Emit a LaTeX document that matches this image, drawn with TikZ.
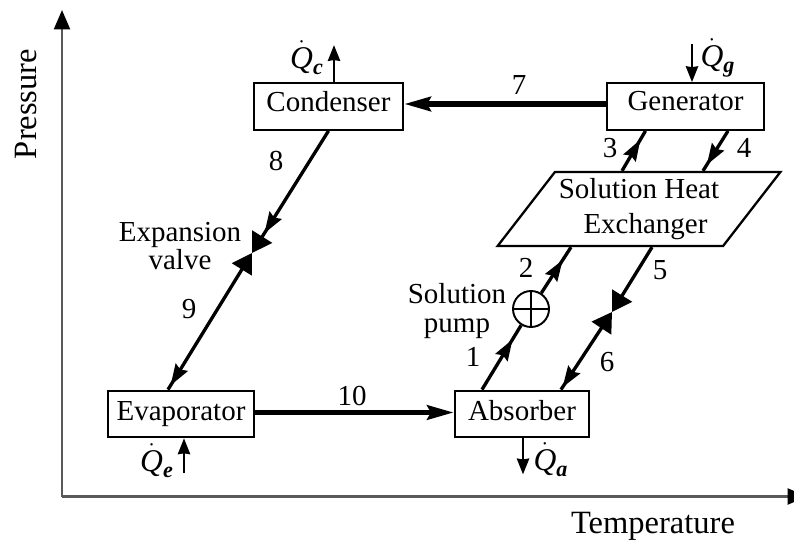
\documentclass[tikz,border=0pt]{standalone}
\usepackage{amsmath}
\usepackage{fontspec}
\setmainfont{Liberation Serif}
\usetikzlibrary{
    arrows.meta,
    decorations.markings,
    shapes.geometric
}
\newcommand{\heatq}[1]{$\dot{\textit{Q}}_{\textbf{\textit{#1}}}$}
\tikzset{
  unitbox/.style = {draw, line width=1.3pt, minimum height=0.93cm, inner sep=0pt,
                    text depth=3.5pt, align=center, font=\fontsize{16.5}{17}\selectfont},
  lab/.style     = {inner sep=0pt, align=center, font=\fontsize{16.5}{16}\selectfont},
  axlab/.style   = {inner sep=0pt, font=\fontsize{18.5}{18}\selectfont},
  heatlab/.style = {inner sep=0pt, font=\fontsize{18}{18}\selectfont},
  axis/.style    = {-{Stealth[length=11pt,width=9pt,inset=0pt,black]}, line width=1.5pt, black!65},
  heat/.style    = {-{Stealth[length=9pt,width=7pt,inset=0.5pt]}, line width=1.2pt},
  flow/.style    = {line width=1.9pt},
  main/.style    = {line width=3.2pt, -{Stealth[length=15pt,width=8pt,inset=2pt]}},
  tipbig/.style  = {-{Stealth[length=11pt,width=13pt,inset=0pt]}},
  bigstart/.style= {{Stealth[length=11pt,width=13pt,inset=0pt]}-},
  midarr/.style  = {postaction={decorate}, decoration={markings,
                    mark=at position #1 with {\arrow{Stealth[length=12pt,width=8pt,inset=1.5pt]}}}}
}
\begin{document}
\begin{tikzpicture}
    \useasboundingbox (0,0) rectangle (15.88,10.88);

    \coordinate (orig)  at (1.24,0.95);
    \coordinate (ytop)  at (1.24,10.68);
    \coordinate (xend)  at (16.14,0.95);
    \node[axlab, rotate=90] (pres) at (0.52,8.8) {Pressure};
    \node[axlab] (temp) at (13.06,0.36) {Temperature};

    \node[unitbox, text depth=5.8pt, minimum width=2.98cm] (cond) at (6.57,8.75) {Condenser};
    \node[unitbox, text depth=5.8pt, minimum width=3.14cm] (gen)  at (13.71,8.75) {Generator};
    \node[unitbox, minimum width=2.92cm] (evap) at (3.62,2.6) {Evaporator};
    \node[unitbox, minimum width=2.68cm] (abs)  at (10.44,2.6) {Absorber};
    \node[draw, line width=1.3pt, trapezium, trapezium left angle=48, trapezium right angle=132,
          trapezium stretches=true, minimum width=5.66cm, minimum height=1.48cm, inner sep=0pt,
          align=center, font=\fontsize{16.5}{19.5}\selectfont] (shx) at (12.78,6.7)
          {Solution Heat\\\hspace{0.26cm}Exchanger};
    \node[draw, circle, line width=1.1pt, minimum size=0.72cm, inner sep=0pt] (pump) at (10.62,4.7) {};
    \draw[line width=0.8pt] (pump.north)--(pump.south) (pump.west)--(pump.east);
    \coordinate (valve) at (5.04,5.82);
    \coordinate (junc)  at (12.24,4.64);

    \draw[main] ([yshift=0.05cm]gen.west)--([yshift=0.05cm]cond.east);
    \draw[main] ([yshift=0.03cm]evap.east)--([yshift=0.03cm]abs.west);

    \draw[flow, tipbig, midarr=0.84] (cond.south)--(valve);
    \draw[flow, bigstart, midarr=0.97] (valve)--([xshift=-0.26cm]evap.north);
    \draw[flow, midarr=0.78] ([xshift=-0.8cm]abs.north)--(pump);
    \draw[flow, midarr=0.72] (pump)--([xshift=-1.36cm]shx.south);
    \draw[flow, midarr=0.78] ([xshift=-0.34cm]shx.north)--([xshift=-0.8cm]gen.south);
    \draw[flow, midarr=0.85] ([xshift=0.85cm]gen.south)--([xshift=1.28cm]shx.north);
    \draw[flow, tipbig] ([xshift=0.26cm]shx.south)--(junc);
    \draw[flow, bigstart, midarr=0.97] (junc)--([xshift=0.78cm]abs.north);

    \draw[heat] ([xshift=0.11cm]cond.north)--++(0,0.74);
    \draw[heat] ([xshift=0.13cm,yshift=0.76cm]gen.north)--([xshift=0.13cm]gen.north);
    \draw[heat] ([xshift=0.06cm,yshift=-0.7cm]evap.south)--([xshift=0.06cm]evap.south);
    \draw[heat] (abs.south)++(0.02,0)--++(0,-0.72);

    \draw[axis] (orig)--(ytop);
    \draw[axis] (orig)--(xend);

    \node[heatlab] (qc) at (6.14,9.72) {\heatq{c}};
    \node[heatlab] (qg) at (14.36,9.72) {\heatq{g}};
    \node[heatlab] (qe) at (3.14,1.66) {\heatq{e}};
    \node[heatlab] (qa) at (11.02,1.68) {\heatq{a}};

    \node[lab] (n7)  at (10.38,9.18) {7};
    \node[lab] (n8)  at (5.52,7.66)  {8};
    \node[lab] (n9)  at (3.78,4.7)   {9};
    \node[lab] (n10) at (7.04,2.96)  {10};
    \node[lab] (n3)  at (12.2,7.92)  {3};
    \node[lab] (n4)  at (14.88,7.92) {4};
    \node[lab] (n5)  at (13.2,5.48)  {5};
    \node[lab] (n2)  at (10.52,5.52) {2};
    \node[lab] (n1)  at (9.46,3.74)  {1};
    \node[lab] (n6)  at (12.14,3.64) {6};
    \node[lab] (spump) at (9.14,4.66) {Solution\\pump};
    \node[lab] (xval)  at (3.6,5.96)  {Expansion\\valve};
\end{tikzpicture}
\end{document}
